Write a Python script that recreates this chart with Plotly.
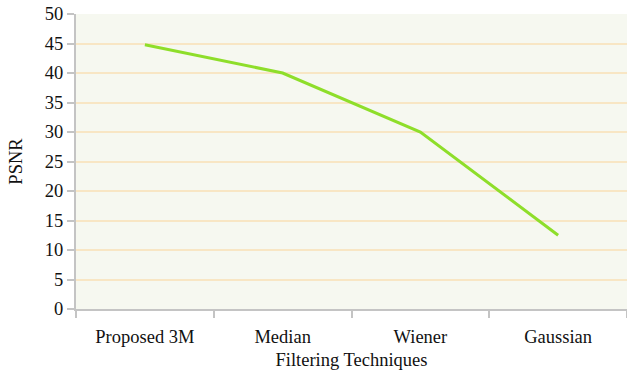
import plotly.graph_objects as go

categories = ["Proposed 3M", "Median", "Wiener", "Gaussian"]
psnr = [44.8, 40.0, 30.0, 12.5]
y_ticks = [0, 5, 10, 15, 20, 25, 30, 35, 40, 45, 50]

font = dict(family="Liberation Serif, Times New Roman, serif", size=18.5, color="#111111")

fig = go.Figure()
fig.add_trace(go.Scatter(
    x=categories, y=psnr, mode="lines",
    line=dict(color="#8ede2a", width=3),
    showlegend=False, hoverinfo="skip",
))

fig.update_layout(
    width=627, height=370,
    margin=dict(l=76, r=0, t=14, b=61),
    paper_bgcolor="white",
    plot_bgcolor="#f6f8f0",
    font=font,
    xaxis=dict(
        type="category",
        tickson="boundaries",
        ticks="outside", ticklen=7, tickcolor="#c4c4c4", tickwidth=2,
        ticklabelstandoff=10,
        showgrid=False,
        showline=True, linecolor="#c4c4c4", linewidth=2,
        title=dict(text="Filtering Techniques", font=font, standoff=8),
        range=[-0.5, 3.5],
        tickfont=font,
    ),
    yaxis=dict(
        range=[0, 50],
        tickvals=y_ticks,
        ticks="outside", ticklen=7, tickcolor="#c4c4c4", tickwidth=2,
        showgrid=True, gridcolor="#f8e6c4", gridwidth=2,
        zeroline=False,
        showline=True, linecolor="#c4c4c4", linewidth=2,
        title=dict(text="PSNR", font=font, standoff=17),
        tickfont=font,
    ),
)

fig.write_html("out.html", config={"displayModeBar": False},
               post_script="document.body.style.margin='0';")
